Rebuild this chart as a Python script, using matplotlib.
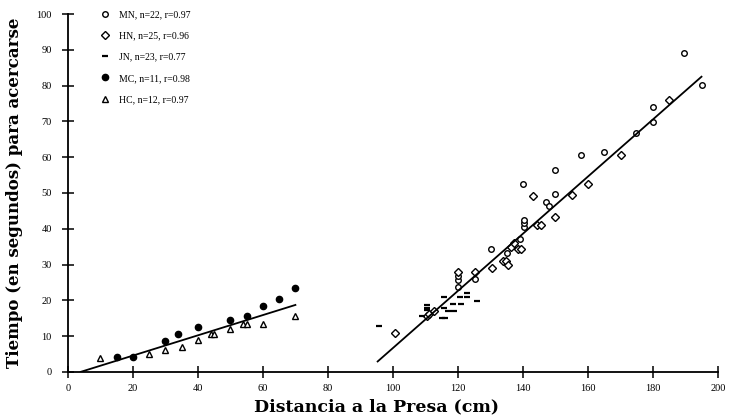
import matplotlib
matplotlib.use('Agg')
import matplotlib.pyplot as plt

plt.rcParams['font.family'] = ['Liberation Serif', 'DejaVu Serif']

# MN - circulos abiertos
mn_x = [120, 120, 120, 125.3, 130.2, 135.1, 139.2, 140, 140.2, 140.2, 140.2,
        147, 148, 149.8, 149.8, 157.7, 164.8, 174.8, 179.9, 179.9, 189.6, 195]
mn_y = [23.8, 25.7, 26.8, 25.9, 34.3, 33.2, 37.1, 52.4, 40.6, 41.5, 42.5,
        47.4, 46.4, 49.6, 56.4, 60.5, 61.5, 66.7, 69.8, 73.9, 89, 80.2]

# HN - rombos
hn_x = [100.5, 110.4, 111.1, 112.6, 120, 125.3, 130.4, 134, 134.9, 135.4, 136.3,
        137.2, 138.4, 139.4, 144.4, 145.4, 143.2, 150, 155.2, 160, 170, 185]
hn_y = [10.8, 15.7, 16.2, 17.1, 27.8, 27.8, 29, 31.1, 31.1, 30, 35,
        36.1, 34.3, 34.3, 41, 41, 49.2, 43.2, 49.3, 52.5, 60.6, 76]

# JN - guiones
jn_x = [95.6, 109, 110.5, 110.5, 110.5, 115, 116, 115.8, 115.8, 117, 118.6,
        118.8, 120.6, 120.8, 122.7, 122.7, 126]
jn_y = [12.8, 15.6, 18.8, 17.9, 17.3, 15, 15, 17.9, 21, 17.1, 19,
        17.1, 21, 19, 22, 21, 19.9]

# MC - circulos llenos
mc_x = [15, 20, 30, 34, 40, 50, 55, 60, 65, 70]
mc_y = [4.2, 4.2, 8.5, 10.5, 12.5, 14.5, 15.5, 18.5, 20.5, 23.5]

# HC - triangulos
hc_x = [10, 25, 30, 35, 40, 44, 45, 50, 54, 55, 60, 70]
hc_y = [4, 5, 6, 7, 9, 10.5, 10.5, 12, 13.3, 13.3, 13.3, 15.5]

# rectas de regresion
fit_left_x = [4, 70]
fit_left_y = [0, 18.7]
fit_right_x = [95.3, 194.9]
fit_right_y = [2.9, 82.5]

labels = ['MN, n=22, r=0.97', 'HN, n=25, r=0.96', 'JN, n=23, r=0.77',
          'MC, n=11, r=0.98', 'HC, n=12, r=0.97']

fig = plt.figure(figsize=(7.29, 4.15), dpi=100)
ax = fig.add_axes([0.093, 0.104, 0.892, 0.862])

ax.plot(mn_x, mn_y, 'o', mfc='white', mec='black', ms=4, mew=1.0, ls='none', label=labels[0])
ax.plot(hn_x, hn_y, 'D', mfc='white', mec='black', ms=3.6, mew=1.0, ls='none', label=labels[1])
ax.plot(jn_x, jn_y, '_', color='black', ms=5, mew=1.6, ls='none', label=labels[2])
ax.plot(mc_x, mc_y, 'o', color='black', ms=4.5, ls='none', label=labels[3])
ax.plot(hc_x, hc_y, '^', mfc='white', mec='black', ms=5, mew=1.0, ls='none', label=labels[4])

ax.plot(fit_left_x, fit_left_y, color='black', lw=1.3)
ax.plot(fit_right_x, fit_right_y, color='black', lw=1.3)

ax.set_xlim(0, 200)
ax.set_ylim(0, 100)
ax.set_xticks(range(0, 201, 20))
ax.set_yticks(range(0, 101, 10))
ax.spines['top'].set_visible(False)
ax.spines['right'].set_visible(False)
ax.spines['left'].set_linewidth(1.3)
ax.spines['bottom'].set_linewidth(1.3)
ax.tick_params(direction='inout', length=9, width=1.1, labelsize=7.5)
ax.tick_params(axis='y', pad=7)
ax.tick_params(axis='x', pad=4)

ax.set_xlabel('Distancia a la Presa (cm)', fontsize=12.5, fontweight='bold',
              family='DejaVu Serif', labelpad=0)
ax.xaxis.set_label_coords(0.475, -0.075)
ax.set_ylabel('Tiempo (en segundos) para acercarse', fontsize=12, fontweight='bold',
              family='DejaVu Serif', labelpad=10)

ax.legend(loc='upper left', bbox_to_anchor=(0.035, 1.035), frameon=False,
          fontsize=7, labelspacing=1.25, handletextpad=0.8, handlelength=1.2)

fig.savefig('out.png', dpi=100)
